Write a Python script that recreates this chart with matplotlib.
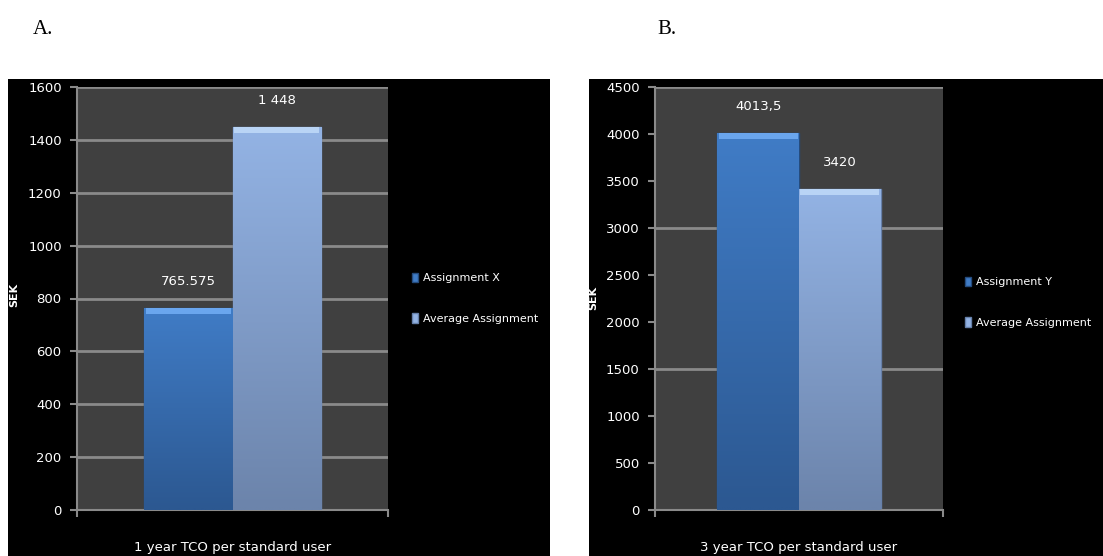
import numpy as np
import matplotlib
matplotlib.use("Agg")
import matplotlib.pyplot as plt
from matplotlib.patches import Rectangle
from matplotlib.colors import to_rgb

# ── data ────────────────────────────────────────────────────────────
series_a = ["Assignment X", "Average Assignment"]
values_a = [765.575, 1448]
labels_a = ["765.575", "1 448"]
yticks_a = list(range(0, 1601, 200))
grid_a = list(range(200, 1601, 200))
xlabel_a = "1 year TCO per standard user"

series_b = ["Assignment Y", "Average Assignment"]
values_b = [4013.5, 3420]
labels_b = ["4013,5", "3420"]
yticks_b = list(range(0, 4501, 500))
grid_b = [1500, 3000, 4500]
xlabel_b = "3 year TCO per standard user"

ylabel = "SEK"

# ── style ───────────────────────────────────────────────────────────
W, H = 1103, 556
NARROW = ["Liberation Sans Narrow", "DejaVu Sans"]
PLOT_BG = "#404040"
GRID = "#8a8a8a"
BAR_STYLE = [  # (top, bottom, band, edge)
    ("#407cc6", "#2c5891", "#6aa6ee", "#254c7e"),
    ("#93b3e4", "#6c84ab", "#b9d4f5", "#6680aa"),
]
BW = 0.283
FS = 9

fig = plt.figure(figsize=(W / 100, H / 100), dpi=100)
fig.patch.set_facecolor("white")


def fx(px):
    return px / W


def fy(py):
    return 1 - py / H


# black chart frames (behind the axes)
for x0, x1 in [(8, 550), (589, 1103)]:
    fig.patches.append(Rectangle((fx(x0), 0), fx(x1 - x0), fy(79),
                                 transform=fig.transFigure,
                                 facecolor="black", edgecolor="none",
                                 zorder=-10))

fig.text(fx(33), fy(34), "A.", family="Liberation Serif", fontsize=15,
         color="black", va="baseline", ha="left")
fig.text(fx(657), fy(34), "B.", family="Liberation Serif", fontsize=15,
         color="black", va="baseline", ha="left")


def gradient_bar(ax, patch, top, bottom):
    c0, c1 = np.array(to_rgb(top)), np.array(to_rgb(bottom))
    t = np.linspace(0, 1, 64)[:, None, None]
    img = c0 * (1 - t) + c1 * t
    x0, w, h = patch.get_x(), patch.get_width(), patch.get_height()
    im = ax.imshow(img, extent=[x0, x0 + w, 0, h], aspect="auto",
                   origin="upper", zorder=3, interpolation="bilinear")
    im.set_clip_path(patch)


def draw_panel(rect, values, labels, series, yticks, grid, xlabel,
               label_x, ylab_xy, leg_xy):
    ax = fig.add_axes(rect)
    ax.set_facecolor(PLOT_BG)
    ymax = yticks[-1]
    band = ymax * 6 / 423
    offsets = [-BW / 2, BW / 2]
    handles = []
    for i, v in enumerate(values):
        top, bottom, band_c, edge = BAR_STYLE[i]
        b = ax.bar(offsets[i], v, width=BW, color=top, edgecolor=edge,
                   linewidth=1, zorder=2, label=series[i])[0]
        gradient_bar(ax, b, top, bottom)
        ax.add_patch(Rectangle((b.get_x() + 0.004, v - band), BW - 0.008, band,
                               facecolor=band_c, edgecolor="none", zorder=4))
        ax.annotate(labels[i], (offsets[i], v), xytext=(0, 19),
                    textcoords="offset points", ha="center", va="center",
                    color="white", family=NARROW, fontsize=FS + 0.5)
        handles.append(Rectangle((0, 0), 1, 1, facecolor=top, edgecolor=edge))
    for g in grid:
        ax.axhline(g, color=GRID, linewidth=2, zorder=1)
    ax.set_xlim(-0.5, 0.5)
    ax.set_ylim(0, ymax)
    ax.set_yticks(yticks)
    ax.set_yticklabels([str(t) for t in yticks], color="white",
                       family=NARROW, fontsize=FS + 0.5)
    ax.set_xticks([-0.5, 0.5])
    ax.set_xticklabels([])
    ax.tick_params(axis="both", colors=GRID, length=5, width=1.5)
    ax.tick_params(axis="y", labelcolor="white", pad=6)
    for s in ["top", "right"]:
        ax.spines[s].set_visible(False)
    for s in ["left", "bottom"]:
        ax.spines[s].set_color(GRID)
        ax.spines[s].set_linewidth(1.5)
    fig.text(fx(label_x), fy(547), xlabel, ha="center", va="center",
             color="white", family=NARROW, fontsize=FS + 0.5)
    fig.text(fx(ylab_xy[0]), fy(ylab_xy[1]), ylabel, rotation=90,
             ha="center", va="center", color="white", family=NARROW,
             fontsize=8, fontweight="bold")
    fig.legend(handles, series, loc="center left",
               bbox_to_anchor=(fx(leg_xy[0]), fy(leg_xy[1])),
               frameon=False, borderpad=0, borderaxespad=0,
               handlelength=0.55, handleheight=1.0, handletextpad=0.45,
               labelspacing=2.65, labelcolor="white",
               prop={"family": NARROW, "size": 8})
    return ax


draw_panel([fx(77), fy(510), fx(388 - 77), (510 - 87) / H],
           values_a, labels_a, series_a, yticks_a, grid_a, xlabel_a,
           233, (14, 295), (412, 298))
draw_panel([fx(655), fy(510), fx(943 - 655), (510 - 87) / H],
           values_b, labels_b, series_b, yticks_b, grid_b, xlabel_b,
           799, (593, 298), (965, 302))

fig.savefig("out.png", dpi=100, facecolor=fig.get_facecolor())
